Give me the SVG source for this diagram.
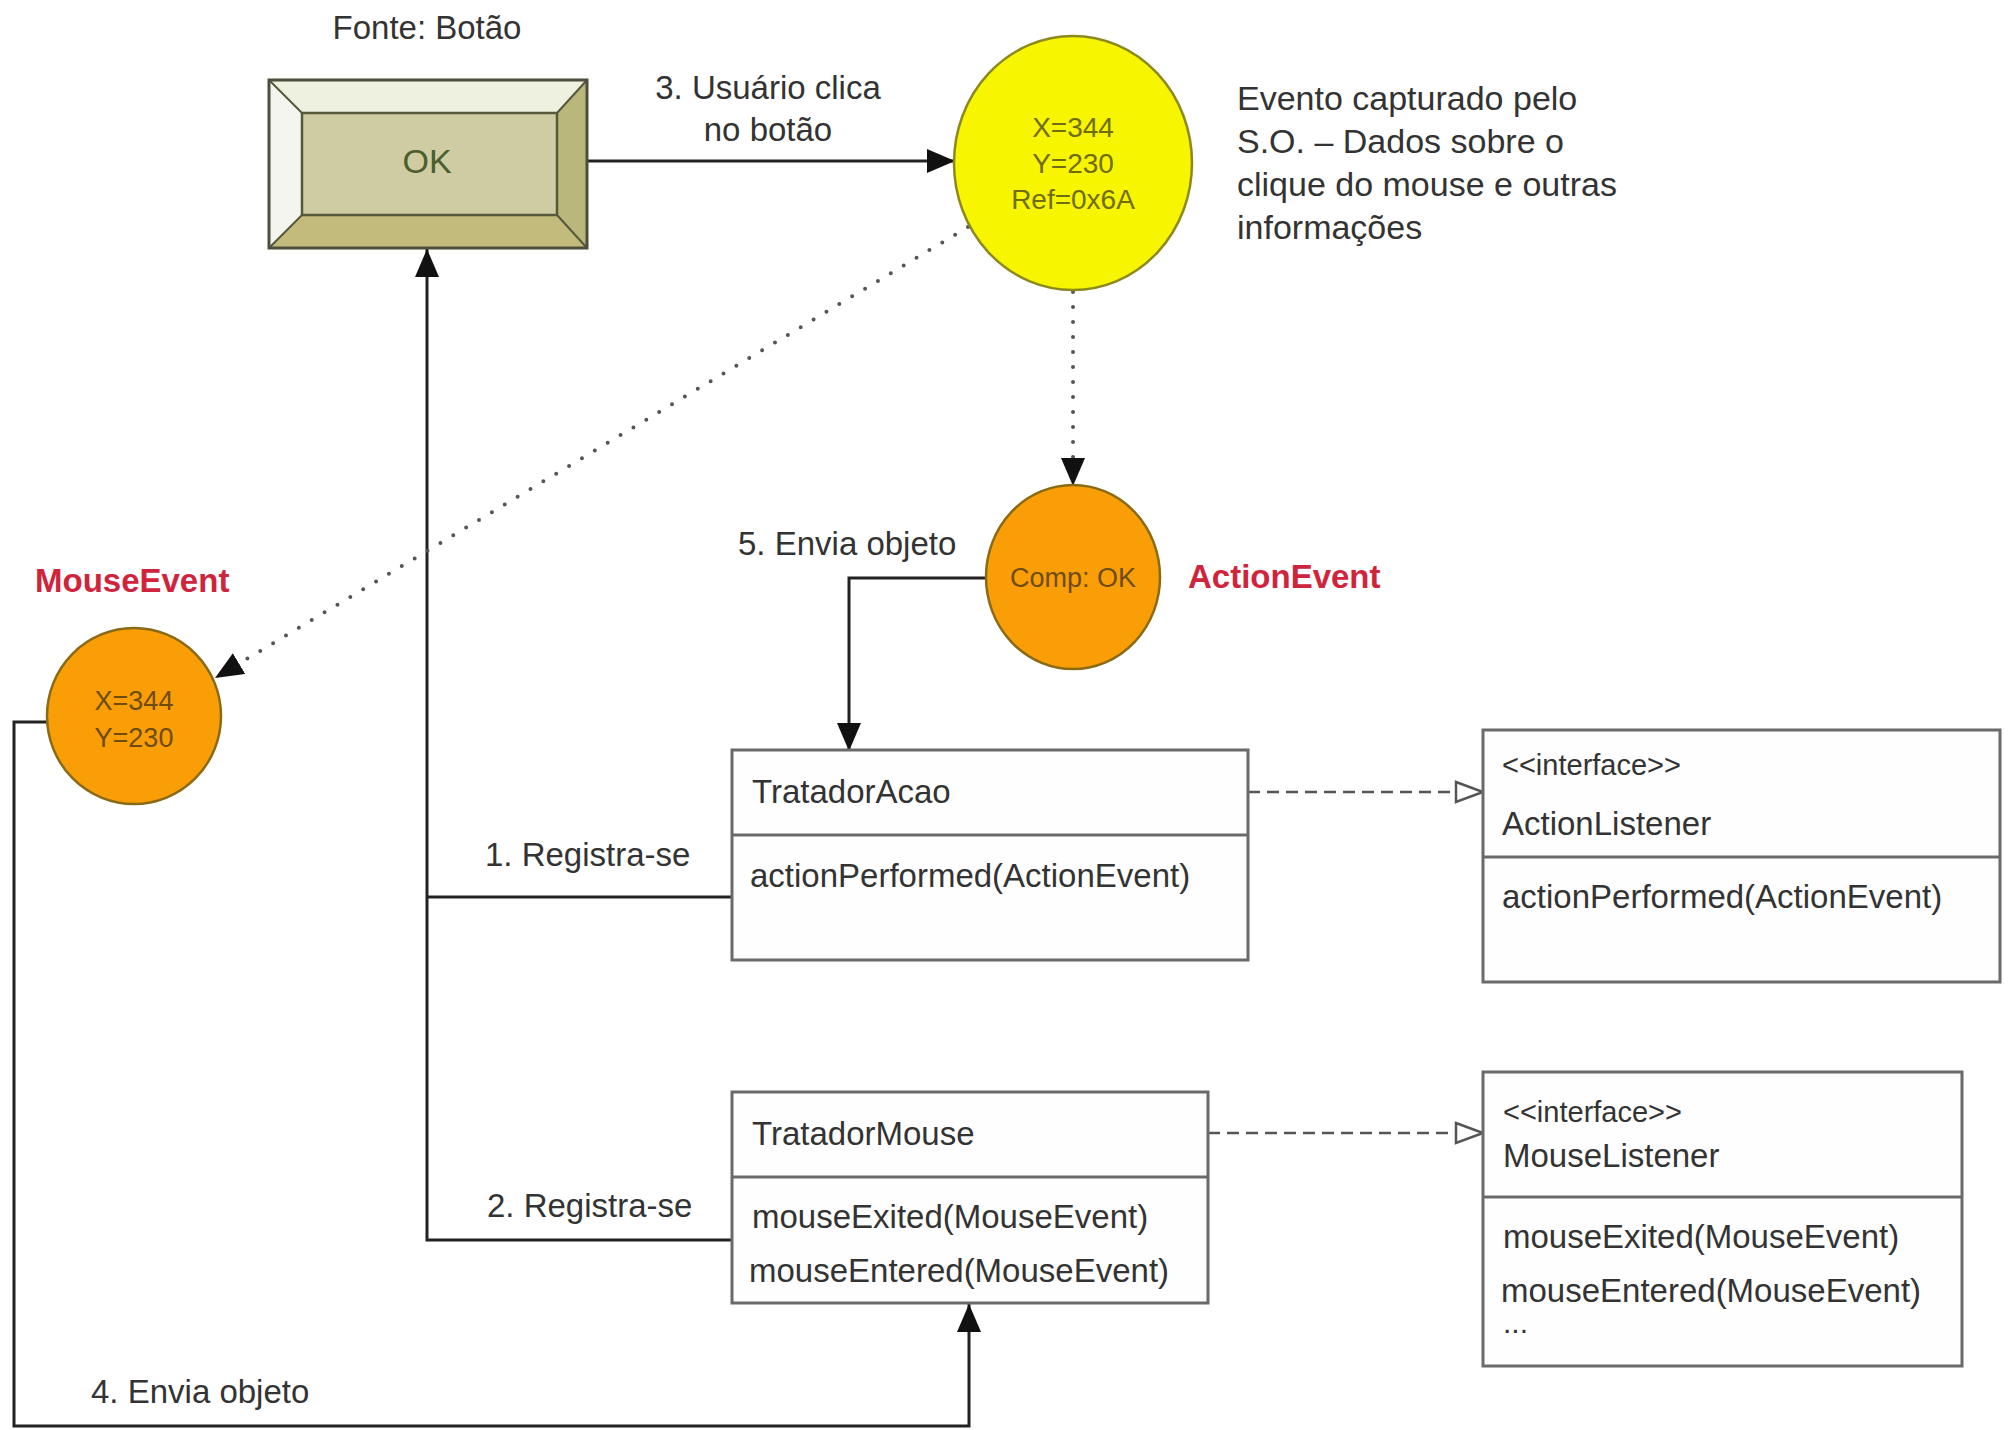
<svg xmlns="http://www.w3.org/2000/svg" width="2012" height="1430" viewBox="0 0 2012 1430">
<style>
.t{font-family:"Liberation Sans",Arial,sans-serif;font-size:33px;fill:#333}
.c{text-anchor:middle}
.red{font-family:"Liberation Sans",Arial,sans-serif;font-size:33px;font-weight:bold;fill:#d0243c}
.ev{font-family:"Liberation Sans",Arial,sans-serif;font-size:27px;text-anchor:middle}
.box{fill:#fefefe;stroke:#6a6a6a;stroke-width:3}
.div{stroke:#6a6a6a;stroke-width:3}
.solid{fill:none;stroke:#222;stroke-width:3}
.dot{fill:none;stroke:#555;stroke-width:4;stroke-linecap:round;stroke-dasharray:0 15}
.dash{fill:none;stroke:#555;stroke-width:2.5;stroke-dasharray:12 7}
</style>
<defs>
<marker id="arr" markerUnits="userSpaceOnUse" markerWidth="30" markerHeight="26" refX="28" refY="12" orient="auto">
<path d="M0,0 L28,12 L0,24 z" fill="#111"/>
</marker>
<marker id="tri" markerUnits="userSpaceOnUse" markerWidth="32" markerHeight="26" refX="29" refY="12" orient="auto">
<path d="M2,2 L29,12 L2,22 z" fill="#fff" stroke="#555" stroke-width="2.5"/>
</marker>
</defs>
<rect width="2012" height="1430" fill="#fff"/>

<g id="connectors">
<path class="solid" d="M587,161 H955" marker-end="url(#arr)"/>
<path class="solid" d="M732,1240 H427 V249" marker-end="url(#arr)"/>
<path class="solid" d="M427,897 H732"/>
<path class="solid" d="M986,578 H849 V751" marker-end="url(#arr)"/>
<path class="solid" d="M47,722 H14 V1426 H969 V1304" marker-end="url(#arr)"/>
<path class="dot" d="M968,227 L215,678" marker-end="url(#arr)"/>
<path class="dot" d="M1073,292 V486" marker-end="url(#arr)"/>
<path class="dash" d="M1248,792 H1483" marker-end="url(#tri)"/>
<path class="dash" d="M1208,1133 H1483" marker-end="url(#tri)"/>
</g>

<g id="labels">
<text class="t c" x="427" y="39">Fonte: Botão</text>
<text class="t c" x="768" y="99">3. Usuário clica</text>
<text class="t c" x="768" y="141">no botão</text>
<text class="t" x="1237" y="110" style="font-size:34px">Evento capturado pelo</text>
<text class="t" x="1237" y="153" style="font-size:34px">S.O. – Dados sobre o</text>
<text class="t" x="1237" y="196" style="font-size:34px">clique do mouse e outras</text>
<text class="t" x="1237" y="239" style="font-size:34px">informações</text>
<text class="t" x="738" y="555">5. Envia objeto</text>
<text class="red" x="1188" y="588">ActionEvent</text>
<text class="red" x="35" y="592">MouseEvent</text>
<text class="t" x="485" y="866">1. Registra-se</text>
<text class="t" x="487" y="1217">2. Registra-se</text>
<text class="t" x="91" y="1403">4. Envia objeto</text>
</g>

<g id="botao">
<rect x="269" y="80" width="318" height="168" fill="#eef0e0"/>
<polygon points="269,80 302,113 302,215 269,248" fill="#f4f5ee"/>
<polygon points="587,80 557,113 557,215 587,248" fill="#b9b77c"/>
<polygon points="269,248 302,215 557,215 587,248" fill="#c3bb7b"/>
<rect x="302" y="113" width="255" height="102" fill="#cfcca3" stroke="#55583a" stroke-width="2.5"/>
<line x1="269" y1="80" x2="302" y2="113" stroke="#55583a" stroke-width="2"/>
<line x1="587" y1="80" x2="557" y2="113" stroke="#55583a" stroke-width="2"/>
<line x1="269" y1="248" x2="302" y2="215" stroke="#55583a" stroke-width="2"/>
<line x1="587" y1="248" x2="557" y2="215" stroke="#55583a" stroke-width="2"/>
<rect x="269" y="80" width="318" height="168" fill="none" stroke="#4d4f3a" stroke-width="3"/>
<text class="t c" x="427" y="173" style="fill:#4a5e2e;font-size:34px">OK</text>
</g>

<g id="evento-so">
<ellipse cx="1073" cy="163" rx="119" ry="127" fill="#f8f500" stroke="#8c8a1e" stroke-width="2.5"/>
<text class="ev" x="1073" y="137" fill="#6f6d10" style="font-size:28px">X=344</text>
<text class="ev" x="1073" y="173" fill="#6f6d10" style="font-size:28px">Y=230</text>
<text class="ev" x="1073" y="209" fill="#6f6d10" style="font-size:28px">Ref=0x6A</text>
</g>

<g id="action-event">
<ellipse cx="1073" cy="577" rx="87" ry="92" fill="#fa9e08" stroke="#8a6a14" stroke-width="2.5"/>
<text class="ev" x="1073" y="587" fill="#6e4c10">Comp: OK</text>
</g>

<g id="mouse-event">
<ellipse cx="134" cy="716" rx="87" ry="88" fill="#fa9e08" stroke="#8a6a14" stroke-width="2.5"/>
<text class="ev" x="134" y="710" fill="#6e4c10">X=344</text>
<text class="ev" x="134" y="747" fill="#6e4c10">Y=230</text>
</g>

<g id="tratador-acao">
<rect class="box" x="732" y="750" width="516" height="210"/>
<line class="div" x1="732" y1="835" x2="1248" y2="835"/>
<text class="t" x="752" y="803">TratadorAcao</text>
<text class="t" x="750" y="887">actionPerformed(ActionEvent)</text>
</g>

<g id="action-listener">
<rect class="box" x="1483" y="730" width="517" height="252"/>
<line class="div" x1="1483" y1="857" x2="2000" y2="857"/>
<text class="t" x="1502" y="775" style="font-size:29px">&lt;&lt;interface&gt;&gt;</text>
<text class="t" x="1502" y="835">ActionListener</text>
<text class="t" x="1502" y="908">actionPerformed(ActionEvent)</text>
</g>

<g id="tratador-mouse">
<rect class="box" x="732" y="1092" width="476" height="211"/>
<line class="div" x1="732" y1="1177" x2="1208" y2="1177"/>
<text class="t" x="752" y="1145">TratadorMouse</text>
<text class="t" x="752" y="1228">mouseExited(MouseEvent)</text>
<text class="t" x="749" y="1282">mouseEntered(MouseEvent)</text>
</g>

<g id="mouse-listener">
<rect class="box" x="1483" y="1072" width="479" height="294"/>
<line class="div" x1="1483" y1="1197" x2="1962" y2="1197"/>
<text class="t" x="1503" y="1122" style="font-size:29px">&lt;&lt;interface&gt;&gt;</text>
<text class="t" x="1503" y="1167">MouseListener</text>
<text class="t" x="1503" y="1248">mouseExited(MouseEvent)</text>
<text class="t" x="1501" y="1302">mouseEntered(MouseEvent)</text>
<text class="t" x="1503" y="1333" style="font-size:30px">...</text>
</g>
</svg>
